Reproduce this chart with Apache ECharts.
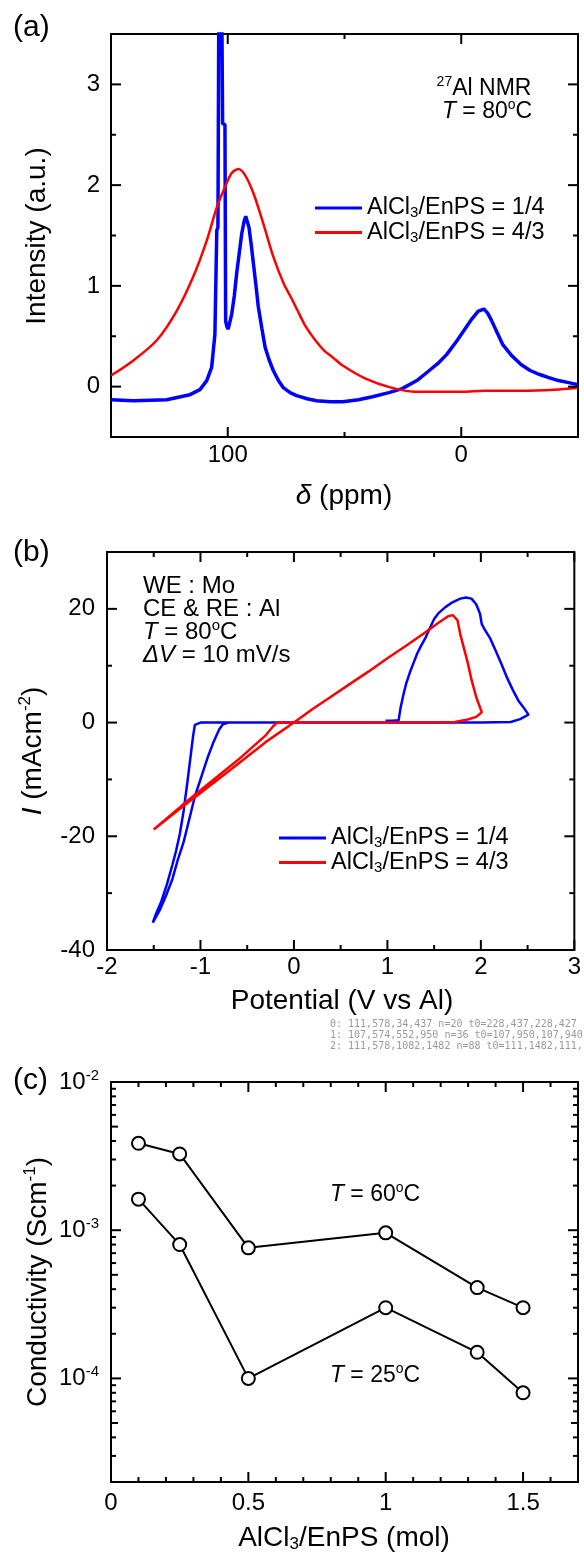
<!DOCTYPE html>
<html><head><meta charset="utf-8">
<script src="https://cdn.jsdelivr.net/npm/echarts@6/dist/echarts.min.js"></script>
<style>html,body{margin:0;padding:0;background:#fff}#c{width:584px;height:1552px}#d{position:absolute;left:330px;top:1018px;font:10px monospace;color:#999;white-space:pre}</style>
</head><body><div id="c"></div><div id="d"></div>
<script>
// ---------- Panel (a): 27Al NMR ----------
const nmrShift14 = [150,140.4,126.2,116.2,111.9,109,106.9,105.5,104.7,104.2,103.7,103.3,102.8,102.2,101.9,101.2,100.9,100.4,99.8,98.3,97.2,96.2,95.1,94.0,93.0,92.3,91.6,90.9,89.9,89.0,87.9,86.9,85.4,84.0,82.2,80.5,78.3,76.2,73.3,70.5,66,62,56,50.8,44,38,31,25.3,19,14.2,10,6.2,2,-1.8,-4.5,-7.3,-9.7,-11.3,-12.9,-15.3,-17.7,-21.5,-25.6,-29.5,-33.6,-37.5,-41.6,-46,-50];
const nmrInt14   = [-0.13,-0.14,-0.13,-0.08,-0.03,0.06,0.19,0.52,1.55,1.58,4.5,4.8,4.6,2.61,2.6,2.6,0.65,0.6,0.57,0.72,0.9,1.12,1.32,1.52,1.64,1.69,1.68,1.58,1.40,1.22,1.00,0.79,0.58,0.39,0.26,0.16,0.06,-0.01,-0.06,-0.09,-0.12,-0.14,-0.15,-0.15,-0.13,-0.10,-0.06,-0.02,0.06,0.15,0.23,0.32,0.45,0.58,0.67,0.75,0.77,0.73,0.66,0.54,0.42,0.31,0.22,0.16,0.12,0.09,0.06,0.04,0.02];
const nmrShift43 = [150,140.4,130.4,121.9,114.8,109,104.7,101.2,98.3,95.5,92.6,89,84.8,80.5,76,73,70,66.7,62.5,58.8,55,50.8,41,30,20,10,0,-10,-25,-40,-50];
const nmrInt43   = [0.11,0.26,0.46,0.75,1.09,1.45,1.78,1.98,2.12,2.16,2.10,1.92,1.62,1.29,1.02,0.89,0.75,0.60,0.46,0.36,0.29,0.21,0.08,-0.01,-0.05,-0.05,-0.05,-0.04,-0.04,-0.03,-0.01];
const nmrShiftLabels = [100, 0];
const nmrShiftMinor = [50];
const nmrIntLabels = [0, 1, 2, 3];
const nmrIntMinor = [0.5, 1.5, 2.5];

// ---------- Panel (b): cyclic voltammetry ----------
const cvPotential14 = [0.22,-0.3,-0.7,-0.76,-0.80,-0.86,-0.92,-0.99,-1.06,-1.12,-1.18,-1.24,-1.30,-1.37,-1.43,-1.47,-1.51,-1.48,-1.42,-1.36,-1.30,-1.26,-1.22,-1.18,-1.14,-1.11,-1.08,-1.06,-1.0,0,1.0,2.0,2.32,2.42,2.51,2.45,2.40,2.34,2.28,2.22,2.16,2.10,2.04,2.01,1.99,1.95,1.90,1.84,1.78,1.70,1.62,1.55,1.50,1.46,1.41,1.36,1.32,1.28,1.24,1.20,1.17,1.14,1.12,1.05,0.98];
const cvCurrent14   = [0,0,0,-0.3,-1.2,-3.4,-6.0,-9.5,-13.0,-17.0,-21.0,-24.0,-27.5,-30.5,-32.8,-34.0,-35.2,-33.8,-31.5,-28.5,-25.0,-22.5,-19.5,-15.5,-10.5,-6.5,-2.5,-0.4,0,0,0,0,0.1,0.6,1.4,2.8,3.9,5.8,7.9,10.3,12.6,14.8,16.4,17.3,19.2,20.8,21.8,22.0,21.8,21.2,20.3,19.3,18.2,16.8,15.0,13.5,12.2,10.5,8.8,6.8,4.8,2.5,0.4,0.3,0.3];
const cvPotential43 = [-1.50,-1.2,-1.0,-0.6,-0.3,0,0.2,0.4,0.6,0.8,1.0,1.2,1.4,1.55,1.65,1.70,1.75,1.78,1.82,1.86,1.90,1.95,2.01,1.95,1.85,1.72,1.5,1.0,0.5,0,-0.18,-0.22,-0.3,-0.6,-1.0,-1.2,-1.5];
const cvCurrent43   = [-18.8,-14.9,-12.4,-7.3,-3.4,0,2.4,4.6,6.8,9.0,11.3,13.5,15.8,17.6,18.7,18.9,18.0,15.5,13.0,10.5,7.5,4.5,1.8,1.0,0.5,0.1,0,0,0,0,0,-0.6,-2.2,-6.6,-11.9,-14.6,-18.8];
const cvPotentialLabels = [-2,-1,0,1,2,3];
const cvPotentialMinor = [-1.5,-0.5,0.5,1.5,2.5];
const cvCurrentLabels = [-40,-20,0,20];
const cvCurrentMinor = [-30,-10,10];

// ---------- Panel (c): conductivity ----------
const ratio = [0.1, 0.25, 0.5, 1.0, 1.333, 1.5];
const sigma60 = [3.86e-3, 3.27e-3, 7.6e-4, 9.6e-4, 4.1e-4, 3.0e-4];
const sigma25 = [1.62e-3, 8.0e-4, 1.0e-4, 3.0e-4, 1.5e-4, 8.0e-5];
const ratioLabels = [0, 0.5, 1, 1.5];
const ratioMinor = [0.1,0.2,0.3,0.4,0.6,0.7,0.8,0.9,1.1,1.2,1.3,1.4,1.6];
const sigmaLabels = [1e-4, 1e-3, 1e-2];
const sigmaMid = [5e-5, 5e-4, 5e-3];
const sigmaMinor = [2e-5,3e-5,4e-5,6e-5,7e-5,8e-5,9e-5,2e-4,3e-4,4e-4,6e-4,7e-4,8e-4,9e-4,2e-3,3e-3,4e-3,6e-3,7e-3,8e-3,9e-3];

const L14 = 'AlCl3/EnPS = 1/4', L43 = 'AlCl3/EnPS = 4/3';
const F = 'Liberation Sans';
const BLUE = '#0000ff', RED = '#ff0000';
const lg = Math.log10;

function rich(s) {
  return {
    it: {fontStyle:'italic', fontSize:s, fontFamily:F, color:'#000', fill:'#000'},
    sup:{fontSize:Math.round(s*0.62), fontFamily:F, color:'#000', fill:'#000', padding:[0,0,Math.round(s*0.55),0]},
    sub:{fontSize:Math.round(s*0.62), fontFamily:F, color:'#000', fill:'#000', padding:[Math.round(s*0.42),0,0,0]}
  };
}

function axis(grid, pos, o) {
  const ax = {
    type:'value', gridIndex:grid, position:pos, min:o.min, max:o.max, inverse:!!o.inverse,
    axisLine:{show:false, onZero:false}, splitLine:{show:false}, axisTick:{show:false}, minorTick:{show:false},
    axisLabel:{show:true, customValues:o.labels, margin:o.margin, color:'#000', fontFamily:F, fontSize:24, rich:rich(24)}
  };
  if (o.fmt) ax.axisLabel.formatter = o.fmt;
  return ax;
}

const xAxes = [
  axis(0,'bottom',{min:-50,max:150,inverse:true,labels:nmrShiftLabels,margin:6}),
  axis(1,'bottom',{min:-2,max:3,labels:cvPotentialLabels,margin:5}),
  axis(2,'bottom',{min:0,max:1.7,labels:ratioLabels,margin:9})
];
const yAxes = [
  axis(0,'left',{min:-0.5,max:3.5,labels:nmrIntLabels,margin:11}),
  axis(1,'left',{min:-40,max:30,labels:cvCurrentLabels,margin:12}),
  axis(2,'left',{min:lg(2e-5),max:-2,labels:sigmaLabels.map(lg),margin:12,fmt:v => '10{sup|' + Math.round(v) + '}'}),
  {type:'log', logBase:10, gridIndex:2, min:2e-5, max:1e-2, show:false}
];

const zip = (a,b) => a.map((v,i) => [v, b[i]]);
const lineS = (name, xi, yi, xs, ys, color, w, smooth) => ({
  type:'line', name, xAxisIndex:xi, yAxisIndex:yi, data:zip(xs,ys), showSymbol:false, symbol:'none',
  smooth: smooth||false, lineStyle:{color, width:w}, itemStyle:{color}, clip:true, z:3
});
const dotS = (name, ys) => ({
  type:'line', name, xAxisIndex:2, yAxisIndex:3, data:zip(ratio, ys), symbol:'circle', symbolSize:13, showSymbol:true,
  lineStyle:{color:'#000', width:2}, itemStyle:{color:'#fff', borderColor:'#000', borderWidth:2}, z:3
});

function txt(x, y, text, o) {
  o = o || {};
  const s = o.size || 28, al = o.align || 'center';
  return {type:'text', x, y, rotation:o.rot||0, silent:true, z:100,
    style:{text, fill:'#000', fontSize:s, fontFamily:F, align:al, verticalAlign:'middle', textAlign:al, textVerticalAlign:'middle', rich:rich(s)}};
}

const legendBase = {
  orient:'vertical', padding:0, itemGap:0, itemWidth:47, itemHeight:3, icon:'rect', data:[L14, L43],
  formatter: n => n.replace('AlCl3', 'AlCl{sub|3}'), selectedMode:false,
  textStyle:{fontSize:23.5, fontFamily:F, color:'#000', lineHeight:23, rich:rich(23.5)}
};

const texts = [
  txt(13, 28, '(a)', {size:30, align:'left'}),
  txt(13, 553, '(b)', {size:30, align:'left'}),
  txt(13, 1081, '(c)', {size:30, align:'left'}),
  txt(37, 236, 'Intensity (a.u.)', {rot:Math.PI/2}),
  txt(344, 496, '{it|δ} (ppm)'),
  txt(484, 89, '{sup|27}Al NMR', {size:23}),
  txt(487, 112, '{it|T} = 80{sup|o}C', {size:23}),
  txt(33, 751, '{it|I} (mAcm{sup|-2})', {rot:Math.PI/2}),
  txt(342, 1001, 'Potential (V vs Al)'),
  txt(143, 586, 'WE : Mo', {size:24, align:'left'}),
  txt(143, 609, 'CE & RE : Al', {size:24, align:'left'}),
  txt(143, 632, '{it|T} = 80{sup|o}C', {size:24, align:'left'}),
  txt(143, 655, '{it|ΔV} = 10 mV/s', {size:24, align:'left'}),
  txt(38, 1282, 'Conductivity (Scm{sup|-1})', {rot:Math.PI/2}),
  txt(344, 1538, 'AlCl{sub|3}/EnPS (mol)'),
  txt(375, 1195, '{it|T} = 60{sup|o}C', {size:23}),
  txt(375, 1376, '{it|T} = 25{sup|o}C', {size:23})
];

const option = {
  animation:false,
  backgroundColor:'#fff',
  grid:[
    {left:111, top:34, width:467, height:403, show:true, borderColor:'#000', borderWidth:2},
    {left:107, top:552, width:471, height:398, show:true, borderColor:'#000', borderWidth:2},
    {left:111, top:1082, width:467, height:400, show:true, borderColor:'#000', borderWidth:2}
  ],
  xAxis:xAxes, yAxis:yAxes,
  legend:[
    Object.assign({}, legendBase, {left:315, top:196}),
    Object.assign({}, legendBase, {left:279, top:826})
  ],
  series:[
    lineS(L14, 0, 0, nmrShift14, nmrInt14, BLUE, 3.5),
    lineS(L43, 0, 0, nmrShift43, nmrInt43, RED, 2.5, 0.3),
    lineS(L14, 1, 1, cvPotential14, cvCurrent14, BLUE, 2.5),
    lineS(L43, 1, 1, cvPotential43, cvCurrent43, RED, 2.5),
    dotS('T = 60°C', sigma60),
    dotS('T = 25°C', sigma25)
  ],
  graphic: texts
};
const chart = echarts.init(document.getElementById('c'), null, {renderer:'canvas'});
chart.setOption(option);

// inside tick marks on all four sides, positioned through the axes' own scales
function axisPix(dim, idx, v) {
  const f = {}; f[dim + 'AxisIndex'] = idx;
  return chart.convertToPixel(f, v);
}
const tickLines = [];
const dbg = [];
function panelTicks(ai, xr, yr, xSets, ySets) {
  const px = v => axisPix('x', ai, v);
  const py = v => axisPix('y', ai, v);
  const xL = Math.min(px(xr[0]), px(xr[1])), xR = Math.max(px(xr[0]), px(xr[1]));
  const yT = Math.min(py(yr[0]), py(yr[1])), yB = Math.max(py(yr[0]), py(yr[1]));
  const st = {stroke:'#000', lineWidth:2};
  const n0 = tickLines.length;
  const ln = (x1,y1,x2,y2) => tickLines.push({type:'line', silent:true, z:200, shape:{x1,y1,x2,y2}, style:st});
  xSets.forEach(([vals, len]) => vals.forEach(v => { const x = px(v); ln(x, yB, x, yB - len); ln(x, yT, x, yT + len); }));
  ySets.forEach(([vals, len]) => vals.forEach(v => { const y = py(v); ln(xL, y, xL + len, y); ln(xR, y, xR - len, y); }));
  const t = tickLines[n0] ? tickLines[n0].shape : {};
  dbg.push(ai + ': ' + [xL, xR, yT, yB].map(Math.round).join(',') + ' n=' + (tickLines.length - n0) + ' t0=' + [t.x1, t.y1, t.x2, t.y2].map(Math.round).join(','));
}
panelTicks(0, [-50,150], [-0.5,3.5], [[nmrShiftLabels,10],[nmrShiftMinor,5]], [[nmrIntLabels,10],[nmrIntMinor,5]]);
panelTicks(1, [-2,3], [-40,30], [[cvPotentialLabels,10],[cvPotentialMinor,5]], [[cvCurrentLabels,10],[cvCurrentMinor,5]]);
panelTicks(2, [0,1.7], [lg(2e-5),-2], [[ratioLabels,10],[ratioMinor,5]], [[sigmaLabels.map(lg),10],[sigmaMid.map(lg),7],[sigmaMinor.map(lg),5]]);
chart.setOption({graphic: texts.concat(tickLines)});
document.getElementById('d').textContent = dbg.join('\n');
</script></body></html>
